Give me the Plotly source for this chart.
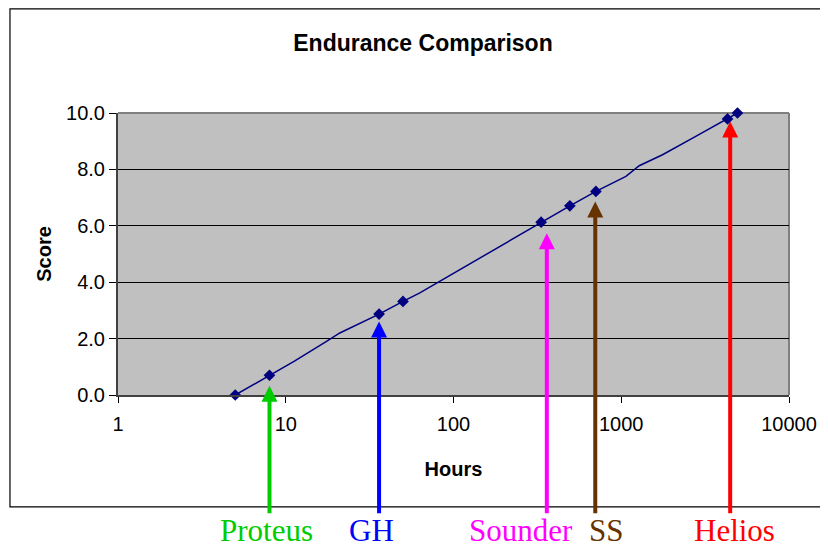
import math
import plotly.graph_objects as go

# ---- data ----
curve_hours = [5, 8, 9.2, 11.2, 17.5, 21, 36, 43.5, 50, 63, 333, 494, 706, 848,
               1066, 1280, 1762, 2780, 4300, 4930]
curve_score = [0.0, 0.70, 0.92, 1.19, 1.90, 2.20, 2.87, 3.14, 3.32, 3.62, 6.13,
               6.71, 7.22, 7.46, 7.75, 8.13, 8.52, 9.17, 9.79, 10.0]

point_hours = [5, 8, 36, 50, 333, 494, 706, 4300, 4930]
point_score = [0.0, 0.70, 2.87, 3.32, 6.13, 6.71, 7.22, 9.79, 10.0]

aircraft = ["Proteus", "GH", "Sounder", "SS", "Helios"]
aircraft_hours = [8, 36, 360, 700, 4460]
aircraft_tip_score = [0.33, 2.61, 5.74, 6.86, 9.70]
aircraft_colors = ["#00CC00", "#0000FF", "#FF00FF", "#663300", "#FF0000"]

x_tick_vals = [1, 10, 100, 1000, 10000]
x_tick_text = ["1", "10", "100", "1000", "10000"]
y_tick_vals = [0, 2, 4, 6, 8, 10]

# layout helpers (pixels / offsets)
label_xshift = [-3, -8, -26, 11, 4]
arrow_tail_score = -4.25
label_y_paper = -0.482

SANS = "Liberation Sans, Arial, sans-serif"
SERIF = "Liberation Serif, Times New Roman, serif"

fig = go.Figure()
fig.add_trace(go.Scatter(x=curve_hours, y=curve_score, mode="lines",
                         line=dict(color="#000080", width=1.5),
                         hoverinfo="skip", showlegend=False))
fig.add_trace(go.Scatter(x=point_hours, y=point_score, mode="markers",
                         marker=dict(symbol="diamond", size=9, color="#000080"),
                         showlegend=False, cliponaxis=False))

annotations = []
for name, h, tip, col, dx in zip(aircraft, aircraft_hours, aircraft_tip_score,
                                 aircraft_colors, label_xshift):
    lx = math.log10(h)  # annotations on a log axis use log10 coordinates
    annotations.append(dict(
        x=lx, y=tip, xref="x", yref="y", text="", showarrow=True,
        ax=lx, ay=arrow_tail_score, axref="x", ayref="y",
        arrowhead=2, arrowsize=0.8, arrowwidth=4, arrowcolor=col, standoff=0))
    annotations.append(dict(
        x=lx, y=label_y_paper, xref="x", yref="paper", text=name, showarrow=False,
        xanchor="center", yanchor="middle", xshift=dx,
        font=dict(family=SERIF, size=31, color=col)))

shapes = [
    # outer chart border
    dict(type="rect", xref="paper", yref="paper", x0=-0.161, x1=1.08,
         y0=-0.397, y1=1.369, line=dict(color="black", width=1.2),
         fillcolor="rgba(0,0,0,0)", layer="below"),
    # plot area top & right border (grey)
    dict(type="line", xref="paper", yref="paper", x0=0, x1=1, y0=1, y1=1,
         line=dict(color="#808080", width=2), layer="between"),
    dict(type="line", xref="paper", yref="paper", x0=1, x1=1, y0=0, y1=1,
         line=dict(color="#808080", width=2), layer="between"),
]

fig.update_layout(
    width=828, height=544,
    margin=dict(l=110, r=47, t=105, b=157),
    paper_bgcolor="white", plot_bgcolor="#C0C0C0",
    title=dict(text="<b>Endurance Comparison</b>", x=(423 - 8) / 828, xref="container",
               xanchor="center", y=1 - (43 - 8) / 544, yanchor="middle",
               font=dict(family=SANS, size=23, color="black")),
    xaxis=dict(type="log", range=[0, 4], tickvals=x_tick_vals, ticktext=x_tick_text,
               ticks="outside", ticklen=6, tickcolor="black", tickwidth=1,
               ticklabelstandoff=4,
               showgrid=False, zeroline=False, showline=True, linecolor="#404040",
               linewidth=2,
               tickfont=dict(family=SANS, size=20, color="black"),
               title=dict(text="<b>Hours</b>", standoff=28,
                          font=dict(family=SANS, size=20, color="black"))),
    yaxis=dict(range=[0, 10], tickvals=y_tick_vals, tickformat=".1f",
               ticks="outside", ticklen=7, tickcolor="black", tickwidth=1,
               showgrid=True, gridcolor="black", gridwidth=1,
               zeroline=False, showline=True, linecolor="#404040", linewidth=2,
               tickfont=dict(family=SANS, size=20, color="black"),
               title=dict(text="<b>Score</b>", standoff=9,
                          font=dict(family=SANS, size=20, color="black"))),
    annotations=annotations, shapes=shapes,
)

fig.write_html("out.html")
